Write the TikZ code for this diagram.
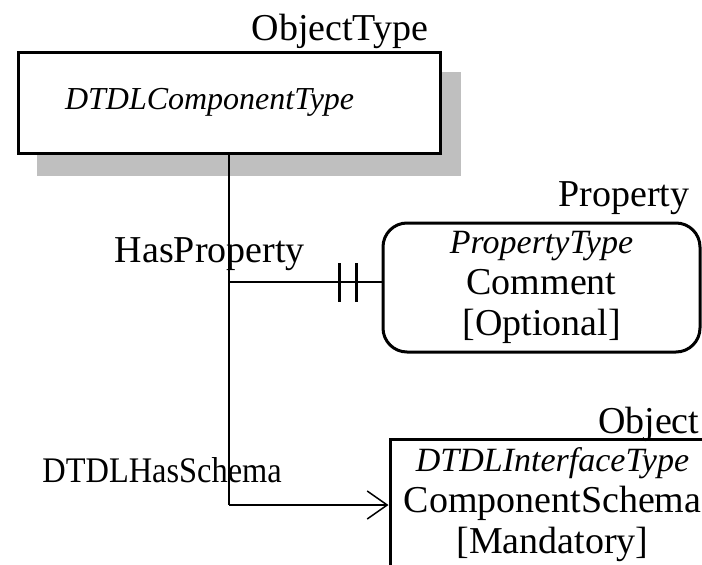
\documentclass[tikz,border=0pt]{standalone}
\usepackage{fontspec}
\setmainfont{Liberation Serif}
\usetikzlibrary{arrows.meta,positioning}
\tikzset{
  big/.style={font=\fontsize{38}{41}\selectfont},
  objbox/.style={draw,line width=3pt,big,align=center,inner sep=0pt},
  propbox/.style={objbox,rounded corners=24pt},
  link/.style={line width=1.5pt},
  bar/.style={line width=3pt}
}
\newcommand{\typename}[2][34]{{\fontsize{#1}{41}\selectfont\itshape #2}}
\begin{document}
\begin{tikzpicture}[x=1pt,y=-1pt]
                \useasboundingbox (0,0) rectangle (702,565);
                \clip (0,0) rectangle (702,565);
                % shadow
                \fill[black!25] (37,72) rectangle (461,176);
                % boxes
                \node[objbox,fill=white,minimum width=422pt,minimum height=101pt,text width=328pt,inner xsep=47pt,align=left] (comp) at (229,102.5) {\raisebox{4pt}{\typename[32]{DTDLComponentType}}};
                \node[propbox,minimum width=317pt,minimum height=129pt] (prop) at (541.5,287.5) {\typename{PropertyType}\\Comment\\{[Optional]}};
                \node[objbox,minimum width=325pt,minimum height=132pt] (iface) at (552.5,505) {\typename{DTDLInterfaceType}\\ComponentSchema\\{[Mandatory]}};
                % box titles
                \node[big,anchor=base east,inner sep=0pt] (compttl) at ([shift={(-13pt,10pt)}]comp.north east) {ObjectType};
                \node[big,anchor=base east,inner sep=0pt] (propttl) at ([shift={(-12pt,15pt)}]prop.north east) {Property};
                \node[big,anchor=base east,inner sep=0pt] (ifacettl) at ([shift={(-17pt,4pt)}]iface.north east) {Object};
                % connectors
                \coordinate (hp) at (comp.south |- 0,282);
                \coordinate (hs) at (comp.south |- iface.west);
                \draw[link] (comp.south) -- (hs);
                \draw[link] (hp) -- (hp -| prop.west);
                \draw[link,-{Straight Barb[length=20pt,width=28pt,line width=1.5pt]}] (hs) -- (iface.west);
                \draw[bar] ([xshift=-42pt]hp -| prop.west) ++(0,-19) -- ++(0,39);
                \draw[bar] ([xshift=-25pt]hp -| prop.west) ++(0,-19) -- ++(0,39);
                % connector labels
                \node[big,anchor=base east,inner sep=0pt] (hplbl) at ([shift={(76pt,20pt)}]hp) {HasProperty};
                \node[font=\fontsize{36}{41}\selectfont,anchor=base east,inner sep=0pt] (hslbl) at ([shift={(53pt,23pt)}]hs) {\scalebox{0.9}[1]{DTDLHasSchema}};
            \end{tikzpicture}
\end{document}
